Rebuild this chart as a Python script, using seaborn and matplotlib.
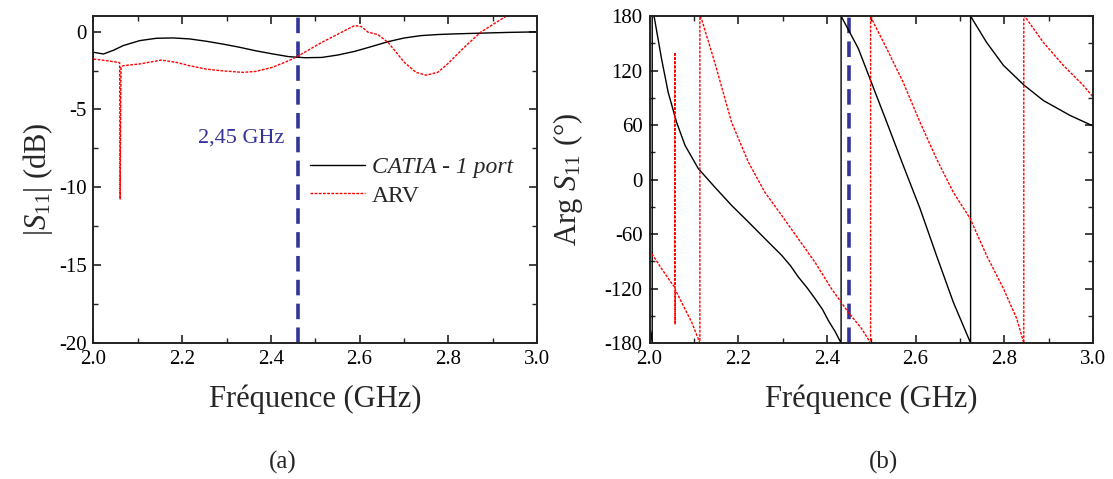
import numpy as np
import pandas as pd
import matplotlib
matplotlib.use("Agg")
import matplotlib.pyplot as plt
import seaborn as sns
from matplotlib.ticker import MultipleLocator, FormatStrFormatter

# Magnitude |S11| (dB)
freq_mag_catia = [2.0, 2.0225, 2.045, 2.067, 2.1045, 2.142, 2.179, 2.216, 2.254, 2.291, 2.328,
                  2.365, 2.403, 2.44, 2.477, 2.515, 2.552, 2.589, 2.626, 2.664, 2.701, 2.738,
                  2.776, 2.813, 2.85, 2.887, 2.94, 3.0]
mag_catia = [-1.33, -1.44, -1.2, -0.9, -0.58, -0.43, -0.41, -0.47, -0.62, -0.8, -1.0,
             -1.23, -1.43, -1.61, -1.68, -1.66, -1.5, -1.27, -0.97, -0.65, -0.41, -0.26,
             -0.19, -0.15, -0.12, -0.09, -0.05, -0.02]

freq_mag_arv = [2.0, 2.030, 2.056, 2.059, 2.06, 2.062, 2.067, 2.104, 2.153, 2.187, 2.216, 2.254,
                2.291, 2.336, 2.365, 2.403, 2.44, 2.459, 2.49, 2.515, 2.552, 2.589, 2.604,
                2.619, 2.641, 2.664, 2.701, 2.727, 2.75, 2.776, 2.798, 2.836, 2.873, 2.903,
                2.933, 3.0]
mag_arv = [-1.76, -1.87, -1.98, -2.0, -10.75, -2.3, -2.19, -2.08, -1.83, -1.98, -2.19, -2.41,
           -2.52, -2.62, -2.56, -2.3, -1.87, -1.61, -1.1, -0.69, -0.15, 0.39, 0.32,
           -0.04, -0.19, -0.69, -1.98, -2.62, -2.8, -2.62, -2.09, -1.01, -0.04, 0.5,
           1.03, 2.2]

# Phase Arg S11 (deg)
freq_ph_catia = [2.0, 2.006, 2.006, 2.0105, 2.027, 2.042, 2.061, 2.08, 2.11, 2.147, 2.185,
                 2.223, 2.26, 2.298, 2.318, 2.335, 2.355, 2.373, 2.39, 2.403, 2.418, 2.432,
                 2.432, 2.433, 2.471, 2.497, 2.535, 2.572, 2.61, 2.647, 2.685, 2.724, 2.724,
                 2.73, 2.76, 2.798, 2.845, 2.888, 2.948, 3.0]
ph_catia = [-160, -180, 180, 179, 133, 96, 63, 37.6, 12, -8.3, -28.5,
            -46.8, -65, -83.5, -95, -107, -119, -131, -143, -155, -167, -180,
            180, 179, 144, 111, 63, 15.6, -32, -83.5, -135, -180, 180,
            175, 151, 125.7, 103.7, 87, 70.6, 59]

freq_ph_arv = [2.0, 2.027, 2.053, 2.0565, 2.057, 2.0575, 2.058, 2.072, 2.095, 2.1135, 2.1135,
               2.117, 2.147, 2.185, 2.223, 2.26, 2.298, 2.335, 2.373, 2.41, 2.448, 2.478,
               2.4985, 2.4985, 2.508, 2.535, 2.572, 2.61, 2.647, 2.685, 2.723, 2.76, 2.798,
               2.828, 2.844, 2.844, 2.85, 2.888, 2.933, 2.978, 3.0]
ph_arv = [-78, -98, -116.5, -118, 140, -159, -121, -135, -157, -180, 180,
          177, 129, 63, 19, -14, -39.5, -65, -91, -120, -146, -164,
          -180, 180, 170, 144, 107, 63, 23, -14, -43, -83.5, -120,
          -153, -180, 180, 177, 151, 125.7, 103.7, 91]

marker_freq_a = 2.46
marker_freq_b = 2.45
marker_label = "2,45 GHz"
series_names = ["CATIA - 1 port", "ARV"]

sns.set_theme(style="white")
plt.rcParams.update({
    "font.family": ["Liberation Serif", "DejaVu Serif"],
    "mathtext.fontset": "custom",
    "mathtext.rm": "Liberation Serif",
    "mathtext.it": "Liberation Serif:italic",
    "axes.unicode_minus": False,
    "axes.edgecolor": "#222222",
    "axes.linewidth": 1.4,
})

BLUE = "#333399"
RED = "#ff0000"

fig = plt.figure(figsize=(11.13, 4.79), dpi=100)
ax1 = fig.add_axes([0.0840, 0.2839, 0.3985, 0.6827])
ax2 = fig.add_axes([0.5836, 0.2839, 0.3984, 0.6827])

df_mag_c = pd.DataFrame({"f": freq_mag_catia, "v": mag_catia})
df_mag_a = pd.DataFrame({"f": freq_mag_arv, "v": mag_arv})
df_ph_c = pd.DataFrame({"f": freq_ph_catia, "v": ph_catia})
df_ph_a = pd.DataFrame({"f": freq_ph_arv, "v": ph_arv})

# (a) magnitude
ax1.axvline(marker_freq_a, color=BLUE, lw=2.6, dashes=(4.3, 2.3), zorder=1)
sns.lineplot(data=df_mag_c, x="f", y="v", ax=ax1, sort=False, estimator=None,
             color="black", lw=1.0, label=series_names[0])
sns.lineplot(data=df_mag_a, x="f", y="v", ax=ax1, sort=False, estimator=None,
             color=RED, lw=1.0, dashes=(2, 1), label=series_names[1])
ax1.text(2.431, -6.84, marker_label, color=BLUE, fontsize=16, ha="right", va="center")
leg = ax1.legend(loc="upper left", bbox_to_anchor=(0.478, 0.585), frameon=False,
                 fontsize=17, handlelength=2.3, handletextpad=0.3, labelspacing=0.3,
                 borderpad=0.2, borderaxespad=0)
leg.get_texts()[0].set_fontstyle("italic")
ax1.set_xlim(2.0, 3.0)
ax1.set_ylim(-20, 1)
ax1.yaxis.set_major_locator(MultipleLocator(5))
ax1.yaxis.set_minor_locator(MultipleLocator(2.5))
ax1.set_ylabel(r"$|S_{11}|$ (dB)", fontsize=22, labelpad=3)

# (b) phase
ax2.axvline(marker_freq_b, color=BLUE, lw=2.6, dashes=(4.3, 2.3), zorder=1)
sns.lineplot(data=df_ph_c, x="f", y="v", ax=ax2, sort=False, estimator=None,
             color="black", lw=1.0)
sns.lineplot(data=df_ph_a, x="f", y="v", ax=ax2, sort=False, estimator=None,
             color=RED, lw=1.0, dashes=(2, 1))
ax2.set_xlim(2.0, 3.0)
ax2.set_ylim(-180, 180)
ax2.yaxis.set_major_locator(MultipleLocator(60))
ax2.yaxis.set_minor_locator(MultipleLocator(30))
ax2.set_ylabel(r"Arg $S_{11}$ (°)", fontsize=22, labelpad=14)

for ax in (ax1, ax2):
    ax.xaxis.set_major_locator(MultipleLocator(0.2))
    ax.xaxis.set_minor_locator(MultipleLocator(0.1))
    ax.xaxis.set_major_formatter(FormatStrFormatter("%.1f"))
    ax.tick_params(which="both", direction="in", top=True, right=True,
                   bottom=True, left=True, labelsize=15, colors="#222222",
                   labelcolor="black")
    ax.tick_params(axis="y", which="major", pad=5)
    ax.tick_params(axis="x", which="major", pad=5)
    ax.tick_params(which="major", length=6, width=1.2)
    ax.tick_params(which="minor", length=3.5, width=1.0)
    ax.set_xlabel("Fréquence (GHz)", fontsize=22, labelpad=11)

fig.text(0.254, 0.035, "(a)", fontsize=18, ha="center", va="center")
fig.text(0.794, 0.035, "(b)", fontsize=18, ha="center", va="center")

fig.savefig("out.png", dpi=100)
